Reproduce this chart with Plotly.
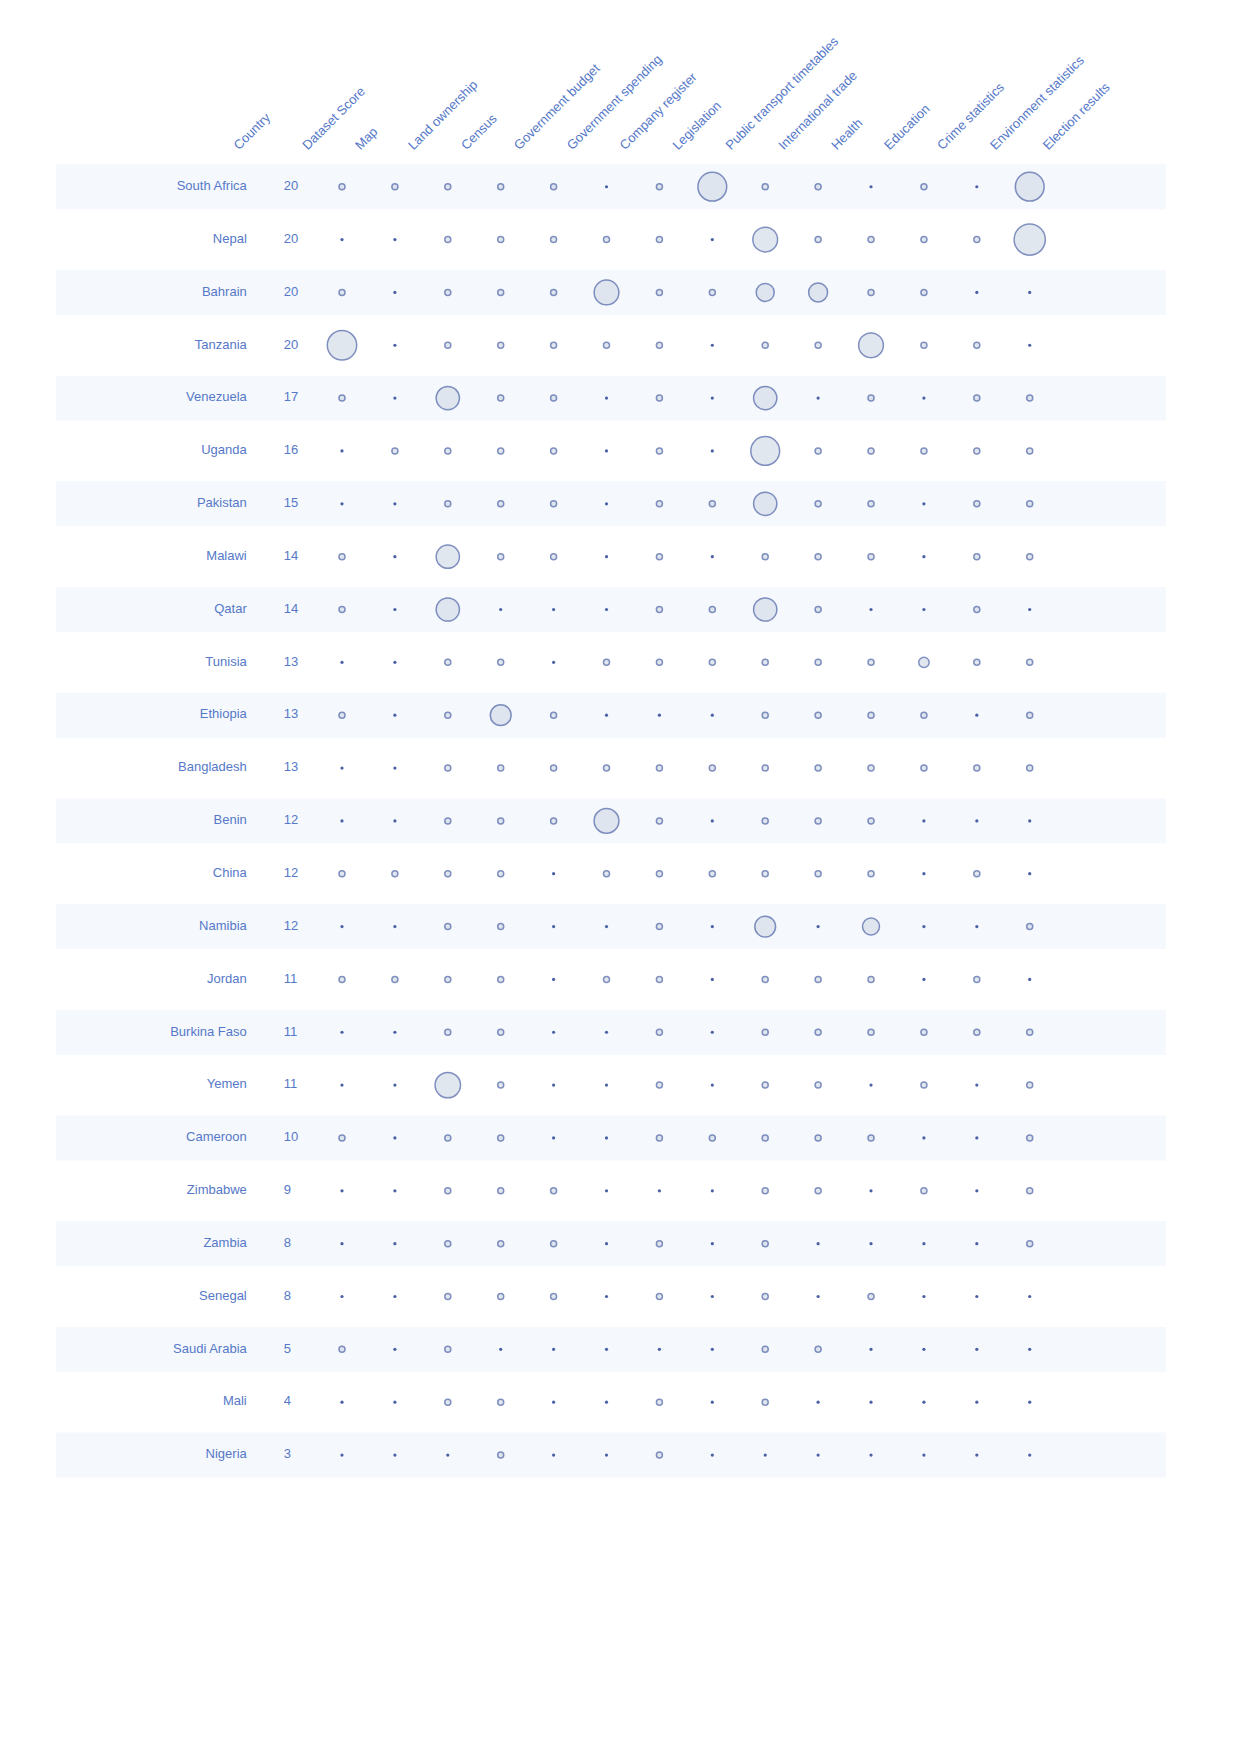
import math
import plotly.graph_objects as go

countries = ["South Africa", "Nepal", "Bahrain", "Tanzania", "Venezuela", "Uganda",
             "Pakistan", "Malawi", "Qatar", "Tunisia", "Ethiopia", "Bangladesh",
             "Benin", "China", "Namibia", "Jordan", "Burkina Faso", "Yemen",
             "Cameroon", "Zimbabwe", "Zambia", "Senegal", "Saudi Arabia", "Mali", "Nigeria"]
dataset_score = [20, 20, 20, 20, 17, 16, 15, 14, 14, 13, 13, 13, 12, 12, 12, 11, 11, 11,
                 10, 9, 8, 8, 5, 4, 3]

datasets = ["Map", "Land ownership", "Census", "Government budget", "Government spending",
            "Company register", "Legislation", "Public transport timetables",
            "International trade", "Health", "Education", "Crime statistics",
            "Environment statistics", "Election results"]

# 0 = not available (dot), 1 = available (ring), larger = bubble value
map_ = [1, 0, 1, 24, 1, 0, 0, 1, 1, 0, 1, 0, 0, 1, 0, 1, 0, 0, 1, 0, 0, 0, 1, 0, 0]
land_ownership = [1, 0, 0, 0, 0, 1, 0, 0, 0, 0, 0, 0, 0, 1, 0, 1, 0, 0, 0, 0, 0, 0, 0, 0, 0]
census = [1, 1, 1, 1, 15, 1, 1, 15, 15, 1, 1, 1, 1, 1, 1, 1, 1, 18, 1, 1, 1, 1, 1, 1, 0]
government_budget = [1, 1, 1, 1, 1, 1, 1, 1, 0, 1, 12, 1, 1, 1, 1, 1, 1, 1, 1, 1, 1, 1, 0, 1, 1]
government_spending = [1, 1, 1, 1, 1, 1, 1, 1, 0, 0, 1, 1, 1, 0, 0, 0, 0, 0, 0, 1, 1, 1, 0, 0, 0]
company_register = [0, 1, 17, 1, 0, 0, 0, 0, 0, 1, 0, 1, 17, 1, 0, 1, 0, 0, 0, 0, 0, 0, 0, 0, 0]
legislation = [1, 1, 1, 1, 1, 1, 1, 1, 1, 1, 0, 1, 1, 1, 1, 1, 1, 1, 1, 0, 1, 1, 0, 1, 1]
public_transport = [23, 0, 1, 0, 0, 0, 1, 0, 1, 1, 0, 1, 0, 1, 0, 0, 0, 0, 1, 0, 0, 0, 0, 0, 0]
international_trade = [1, 17, 9, 1, 15, 23, 15, 1, 15, 1, 1, 1, 1, 1, 12, 1, 1, 1, 1, 1, 1, 1, 1, 1, 0]
health = [1, 1, 10, 1, 0, 1, 1, 1, 1, 1, 1, 1, 1, 1, 0, 1, 1, 1, 1, 1, 0, 0, 1, 0, 0]
education = [0, 1, 1, 17, 1, 1, 1, 1, 0, 1, 1, 1, 1, 1, 8, 1, 1, 0, 1, 0, 0, 1, 0, 0, 0]
crime_statistics = [1, 1, 1, 1, 0, 1, 0, 0, 0, 3, 1, 1, 0, 0, 0, 0, 1, 1, 0, 1, 0, 0, 0, 0, 0]
environment_statistics = [0, 1, 0, 1, 1, 1, 1, 1, 1, 1, 0, 1, 0, 1, 0, 1, 1, 0, 0, 0, 0, 0, 0, 0, 0]
election_results = [23, 27, 0, 0, 1, 1, 1, 1, 0, 1, 1, 1, 0, 0, 1, 0, 1, 1, 1, 1, 1, 0, 0, 0, 0]

columns = [map_, land_ownership, census, government_budget, government_spending,
           company_register, legislation, public_transport, international_trade, health,
           education, crime_statistics, environment_statistics, election_results]

TEXT = "#5578c8"
EDGE = "#4a60a4"
FILL = "#d5dde9"
BAND = "#f5f8fd"
FONT = "Liberation Sans, Arial, sans-serif"

bx, by, bs = [], [], []
dx, dy = [], []
for j, col in enumerate(columns):
    for i, v in enumerate(col):
        if v > 0:
            bx.append(j); by.append(i); bs.append(6 * math.sqrt(v))
        else:
            dx.append(j); dy.append(i)

fig = go.Figure()

# banded rows
for i in range(0, len(countries), 2):
    fig.add_shape(type="rect", xref="paper", x0=0, x1=1, yref="y", y0=i - 0.425, y1=i + 0.425,
                  fillcolor=BAND, line_width=0, layer="below")

fig.add_trace(go.Scatter(x=dx, y=dy, mode="markers", hoverinfo="skip",
                         marker=dict(size=3.2, color=EDGE, line_width=0)))
fig.add_trace(go.Scatter(x=bx, y=by, mode="markers", hoverinfo="skip",
                         marker=dict(size=bs, color=FILL, line=dict(color=EDGE, width=1.5))))

fig.add_trace(go.Scatter(x=[-1.8] * len(countries), y=list(range(len(countries))), mode="text",
                         text=countries, textposition="middle left", hoverinfo="skip",
                         textfont=dict(family=FONT, size=13, color=TEXT)))
fig.add_trace(go.Scatter(x=[-1.1] * len(countries), y=list(range(len(countries))), mode="text",
                         text=[str(s) for s in dataset_score], textposition="middle right",
                         hoverinfo="skip", textfont=dict(family=FONT, size=13, color=TEXT)))

tickvals = [-2.3, -1] + list(range(len(datasets)))
ticktext = ["Country", "Dataset Score"] + datasets

fig.update_layout(
    width=1240, height=1753,
    margin=dict(l=56, r=74, t=156, b=253),
    paper_bgcolor="white", plot_bgcolor="white",
    showlegend=False,
    font=dict(family=FONT, size=13, color=TEXT),
    xaxis=dict(side="top", range=[-5.406, 15.576], tickvals=tickvals, ticktext=ticktext,
               tickangle=-45, ticklabelshift=14, showgrid=False, zeroline=False,
               showline=False, ticks="",
               tickfont=dict(family=FONT, size=13, color=TEXT), fixedrange=True),
    yaxis=dict(range=[24.851, -0.5815], visible=False, showgrid=False, zeroline=False,
               fixedrange=True),
)

fig.write_html("out.html")
